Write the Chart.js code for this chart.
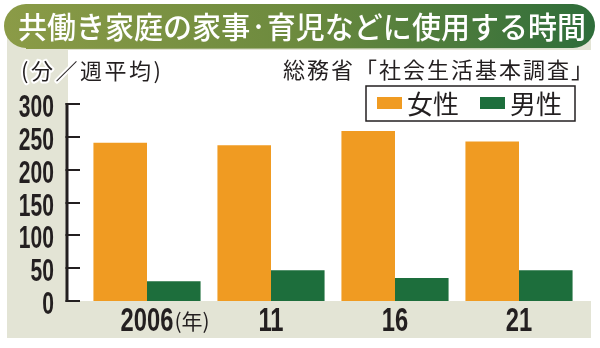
<!DOCTYPE html>
<html>
<head>
<meta charset="utf-8">
<script src="https://cdn.jsdelivr.net/npm/chart.js@4.4.0/dist/chart.umd.min.js"></script>
<style>
html, body { margin: 0; padding: 0; background: #fff; }
canvas { display: block; }
</style>
</head>
<body>
<canvas id="chart" width="600" height="348"></canvas>
<script>
const years = ['2006', '11', '16', '21'];
const women = [241, 237, 259, 243];
const men = [30, 47, 35, 47];
const yTicks = [0, 50, 100, 150, 200, 250, 300];
const seriesNames = ['女性', '男性'];

const title = '共働き家庭の家事·育児などに使用する時間';
const unitLabel = '(分／週平均)';
const sourceLabel = '総務省「社会生活基本調査」';
const yearSuffix = '(年)';

const ORANGE = '#f09b22';
const GREEN = '#1d6e3c';
const BEIGE = '#e3e4d5';
const INK = '#231f20';
const JP = "'Noto Sans CJK JP', 'Noto Sans', sans-serif";
const NUM = "'Liberation Sans', Arial, sans-serif";

function roundRect(ctx, x, y, w, h, r) {
    ctx.beginPath();
    ctx.moveTo(x + r, y);
    ctx.lineTo(x + w - r, y);
    ctx.arc(x + w - r, y + r, r, -Math.PI / 2, Math.PI / 2);
    ctx.lineTo(x + r, y + h);
    ctx.arc(x + r, y + r, r, Math.PI / 2, Math.PI * 1.5);
    ctx.closePath();
}

// numbers in the original use a condensed face, so squeeze them
function narrowText(ctx, text, x, y, align, squeeze) {
    ctx.save();
    ctx.translate(x, y);
    ctx.scale(squeeze, 1);
    ctx.textAlign = align;
    ctx.textBaseline = 'alphabetic';
    ctx.fillText(text, 0, 0);
    ctx.restore();
}

const decorPlugin = {
    id: 'decor',
    beforeDraw(chart) {
        const ctx = chart.ctx;
        const area = chart.chartArea;
        ctx.save();
        // beige panel and white plot field
        ctx.fillStyle = BEIGE;
        ctx.fillRect(7, 30, 584, 308);
        ctx.fillStyle = '#fff';
        ctx.fillRect(68, 50, 523, area.bottom - 50);

        // title banner
        const grad = ctx.createLinearGradient(4, 0, 595, 0);
        grad.addColorStop(0, '#8b9b47');
        grad.addColorStop(0.5, '#6c8a3e');
        grad.addColorStop(1, '#2e6d3a');
        roundRect(ctx, 4, 4, 591, 45, 22);
        ctx.fillStyle = grad;
        ctx.fill();
        ctx.fillStyle = '#fff';
        ctx.font = '500 30px ' + JP;
        ctx.textBaseline = 'middle';
        ctx.textAlign = 'left';
        ctx.fillText(title, 18, 27, 568);

        // unit label and source
        ctx.fillStyle = INK;
        ctx.font = '22px ' + JP;
        ctx.letterSpacing = '2.5px';
        ctx.strokeStyle = '#fff';
        ctx.lineWidth = 4;
        ctx.lineJoin = 'round';
        ctx.strokeText(unitLabel, 21, 71);
        ctx.fillText(unitLabel, 21, 71);
        ctx.letterSpacing = '2px';
        ctx.fillText(sourceLabel, 283, 70);
        ctx.letterSpacing = '0px';
        ctx.restore();
    },
    afterDraw(chart) {
        const ctx = chart.ctx;
        const y = chart.scales.y;
        const x = chart.scales.x;
        ctx.save();
        // y axis line and inner ticks
        ctx.strokeStyle = INK;
        ctx.lineWidth = 3;
        ctx.beginPath();
        ctx.moveTo(67, y.getPixelForValue(yTicks[yTicks.length - 1]) - 1);
        ctx.lineTo(67, y.getPixelForValue(0) + 1);
        ctx.stroke();
        ctx.lineWidth = 2;
        y.ticks.forEach(t => {
            const py = Math.round(y.getPixelForValue(t.value));
            ctx.beginPath();
            ctx.moveTo(65.5, py);
            ctx.lineTo(80, py);
            ctx.stroke();
        });

        // tick labels
        ctx.fillStyle = INK;
        ctx.font = 'bold 31px ' + NUM;
        y.ticks.forEach(t => {
            narrowText(ctx, String(t.value), 54, y.getPixelForValue(t.value) + 13, 'right', 0.68);
        });
        ctx.font = 'bold 33px ' + NUM;
        x.ticks.forEach((t, i) => {
            narrowText(ctx, x.getLabelForValue(t.value), x.getPixelForTick(i), 331, 'center', 0.72);
        });

        // (年) after the first year label
        const w = ctx.measureText(years[0]).width * 0.72;
        ctx.font = '21px ' + JP;
        ctx.textAlign = 'left';
        ctx.textBaseline = 'middle';
        ctx.fillText(yearSuffix, x.getPixelForTick(0) + w / 2 + 1, 321);

        // legend box
        ctx.fillStyle = '#fff';
        ctx.fillRect(366, 86, 209, 35);
        ctx.strokeStyle = INK;
        ctx.lineWidth = 1.5;
        ctx.strokeRect(366, 86, 209, 35);
        ctx.font = '26px ' + JP;
        let lx = 377;
        chart.data.datasets.forEach(ds => {
            ctx.fillStyle = ds.backgroundColor;
            ctx.fillRect(lx, 97, 25, 12);
            ctx.fillStyle = INK;
            ctx.fillText(ds.label, lx + 30, 104);
            lx += 30 + ctx.measureText(ds.label).width + 21;
        });
        ctx.restore();
    }
};

new Chart(document.getElementById('chart'), {
    type: 'bar',
    data: {
        labels: years,
        datasets: [
            { label: seriesNames[0], data: women, backgroundColor: ORANGE },
            { label: seriesNames[1], data: men, backgroundColor: GREEN }
        ]
    },
    options: {
        responsive: false,
        animation: false,
        devicePixelRatio: 1,
        layout: { padding: { left: 0, right: 19, top: 104, bottom: 7 } },
        datasets: {
            bar: { barPercentage: 1, categoryPercentage: 0.864, borderWidth: 0 }
        },
        plugins: {
            legend: { display: false },
            tooltip: { enabled: false }
        },
        scales: {
            x: {
                offset: true,
                grid: { display: false, drawTicks: false },
                border: { display: false },
                ticks: { display: false },
                afterFit(scale) { scale.height = 40; }
            },
            y: {
                min: 0,
                max: 300,
                grid: { display: false, drawTicks: false },
                border: { display: false },
                afterBuildTicks(scale) { scale.ticks = yTicks.map(v => ({ value: v })); },
                ticks: { display: false },
                afterFit(scale) { scale.width = 85; }
            }
        }
    },
    plugins: [decorPlugin]
});
</script>
</body>
</html>
